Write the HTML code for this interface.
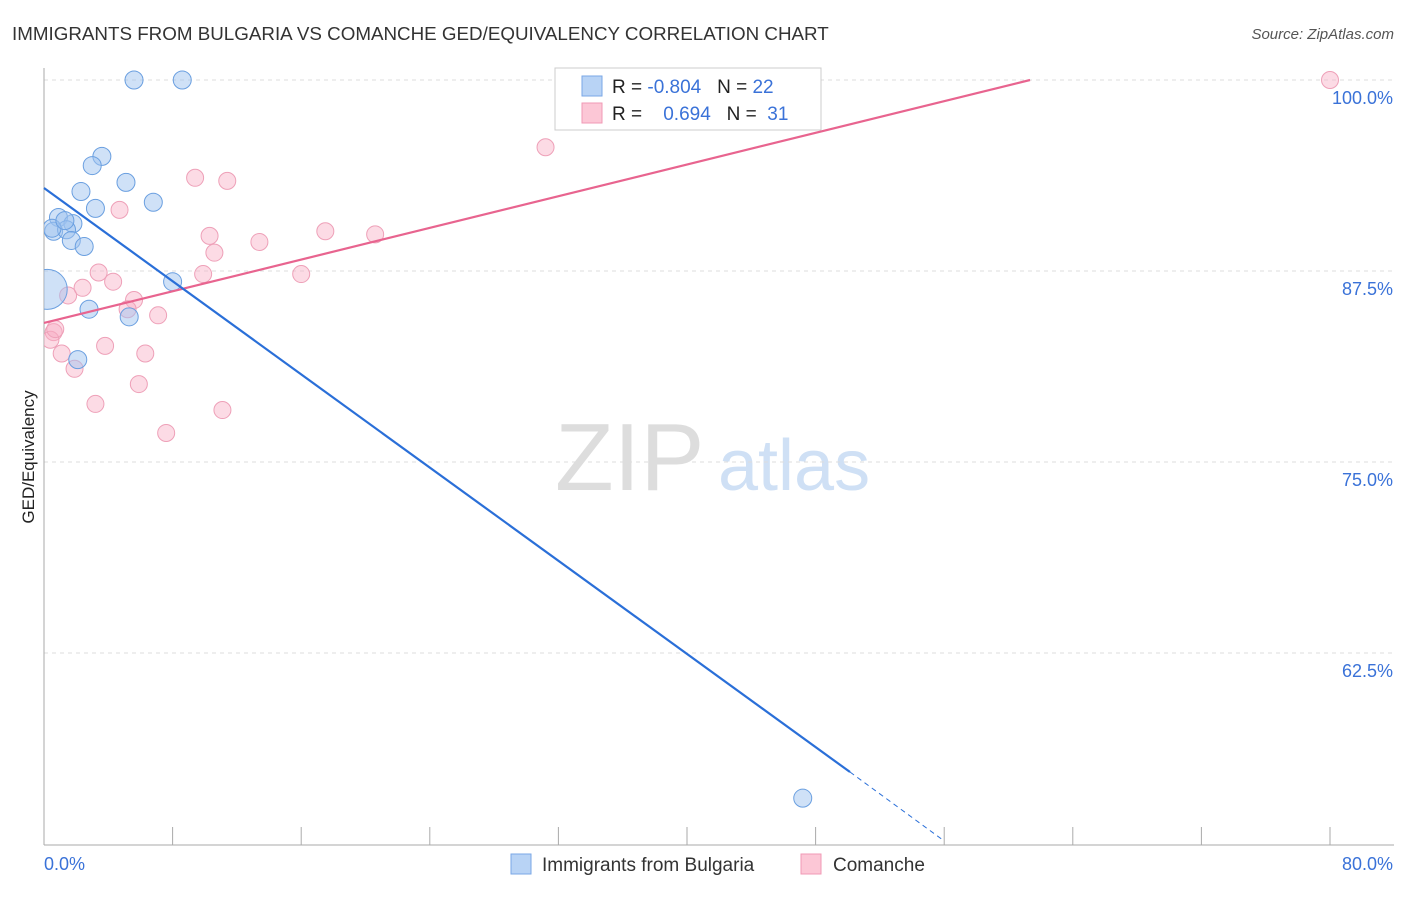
<!DOCTYPE html>
<html><head><meta charset="utf-8"><style>
body{margin:0;background:#fff;font-family:"Liberation Sans",sans-serif}
svg text{font-family:"Liberation Sans",sans-serif}
</style></head><body>
<svg id="c" width="1406" height="892" xmlns="http://www.w3.org/2000/svg">
<defs><clipPath id="plot"><rect x="44" y="60" width="1360" height="785"/></clipPath></defs>
<text x="12" y="40" font-size="18.8" fill="#333">IMMIGRANTS FROM BULGARIA VS COMANCHE GED/EQUIVALENCY CORRELATION CHART</text>
<text x="1394" y="39" font-size="15" fill="#555" text-anchor="end" font-style="italic">Source: ZipAtlas.com</text>
<text x="34" y="457" font-size="17" fill="#222" text-anchor="middle" transform="rotate(-90 34 457)">GED/Equivalency</text>
<text x="555" y="490" font-size="96" fill="#ddd" font-family="Liberation Serif">ZIP</text>
<text x="718" y="490" font-size="72" fill="#cfe0f5">atlas</text>
<g id="grid"></g><g id="pts" clip-path="url(#plot)"></g><g id="lines"></g>
<g>
<rect x="555" y="68" width="266" height="62" fill="#fff" stroke="#ccc"/>
<rect x="582" y="76" width="20" height="20" fill="#b8d3f5" stroke="#7aa7e6"/>
<rect x="582" y="103" width="20" height="20" fill="#fcc7d6" stroke="#f09ab5"/>
<text x="612" y="93" font-size="19" fill="#222" xml:space="preserve">R = <tspan fill="#3a72d8">-0.804</tspan>   N = <tspan fill="#3a72d8">22</tspan></text>
<text x="612" y="120" font-size="19" fill="#222" xml:space="preserve">R =    <tspan fill="#3a72d8">0.694</tspan>   N =  <tspan fill="#3a72d8">31</tspan></text>
</g>
<g>
<rect x="511" y="854" width="20" height="20" fill="#b8d3f5" stroke="#7aa7e6"/>
<text x="542" y="871" font-size="19" fill="#333">Immigrants from Bulgaria</text>
<rect x="801" y="854" width="20" height="20" fill="#fcc7d6" stroke="#f09ab5"/>
<text x="833" y="871" font-size="19" fill="#333">Comanche</text>
</g>
</svg>
<script>
const yTicks=[100,87.5,75,62.5];
const yTickLabels=["100.0%","87.5%","75.0%","62.5%"];
const xTicks=[0,8,16,24,32,40,48,56,64,72,80];
const xEndLabels=["0.0%","80.0%"];
const bulgariaX=[5.6,8.6,3.6,3.0,5.1,2.3,6.8,3.2,0.9,1.8,0.6,1.4,1.7,2.5,8.0,0.2,2.8,5.3,2.1,47.2,0.5,1.3];
const bulgariaY=[100,100,95.0,94.4,93.3,92.7,92.0,91.6,91.0,90.6,90.1,90.2,89.5,89.1,86.8,86.3,85.0,84.5,81.7,53.0,90.3,90.8];
const bulgariaR=[9,9,9,9,9,9,9,9,9,9,9,9,9,9,9,20,9,9,9,9,9,9];
const comancheX=[9.4,11.4,4.7,10.3,13.4,17.5,20.6,10.6,3.4,4.3,9.9,16.0,1.5,2.4,5.6,5.2,7.1,0.6,0.4,3.8,6.3,1.1,1.9,5.9,3.2,11.1,7.6,31.2,80,33.2,0.7];
const comancheY=[93.6,93.4,91.5,89.8,89.4,90.1,89.9,88.7,87.4,86.8,87.3,87.3,85.9,86.4,85.6,85.0,84.6,83.5,83.0,82.6,82.1,82.1,81.1,80.1,78.8,78.4,76.9,95.6,100,100,83.7];
const bulgariaTrend=[[0,92.93],[50.14,54.71]];
const bulgariaDash=[[50.14,54.71],[56.0,50.2]];
const comancheTrend=[[0,84.1],[61.34,100]];
const X=v=>44+v*16.075, Y=v=>80+(100-v)*15.28;
const NS="http://www.w3.org/2000/svg";
function mk(tag,attrs,parent){const e=document.createElementNS(NS,tag);for(const k in attrs)e.setAttribute(k,attrs[k]);parent.appendChild(e);return e;}
const g=document.getElementById('grid');
yTicks.forEach((t,i)=>{
 const l=mk('line',{x1:44,x2:1394,y1:Y(t),y2:Y(t),stroke:'#ddd','stroke-dasharray':'4,4'},g);
 
 
 const tx=mk('text',{x:1393,y:Y(t)+24,'font-size':18,fill:'#3a72d8','text-anchor':'end'},g);tx.textContent=yTickLabels[i];
 
 
});
const ax=mk('line',{x1:44,x2:44,y1:68,y2:845,stroke:'#aaa'},g);


const bx=mk('line',{x1:44,x2:1394,y1:845,y2:845,stroke:'#aaa'},g);


xTicks.forEach(t=>{const l=mk('line',{x1:X(t),x2:X(t),y1:827,y2:845,stroke:'#aaa'},g);
 
 });
[[0,'start'],[80,'end']].forEach((p,i)=>{const tx=mk('text',{x:X(p[0])+(i?63:0),y:870,'font-size':18,fill:'#3a72d8','text-anchor':p[1]},g);tx.textContent=xEndLabels[i];
 
 });
const pg=document.getElementById('pts');
comancheX.forEach((x,i)=>{const c=mk('circle',{cx:X(x),cy:Y(comancheY[i]),r:8.5,fill:'rgba(248,175,198,0.45)',stroke:'#eea0b8','stroke-width':1},pg);
 
 });
bulgariaX.forEach((x,i)=>{const c=mk('circle',{cx:X(x),cy:Y(bulgariaY[i]),r:bulgariaR[i],fill:'rgba(160,196,240,0.5)',stroke:'#6a9fe0','stroke-width':1},pg);
 
 });
const lg=document.getElementById('lines');
function seg(p,col,dash,name){const l=mk('line',{x1:X(p[0][0]),y1:Y(p[0][1]),x2:X(p[1][0]),y2:Y(p[1][1]),stroke:col,'stroke-width':dash?1:2.2},lg);if(dash)l.setAttribute('stroke-dasharray','5,4');
 
 }
seg(comancheTrend,'#e8648f',false,'comanche-trendline');
seg(bulgariaTrend,'#2a6fd8',false,'bulgaria-trendline');
seg(bulgariaDash,'#2a6fd8',true,'bulgaria-trendline-extension');
</script>
</body></html>
